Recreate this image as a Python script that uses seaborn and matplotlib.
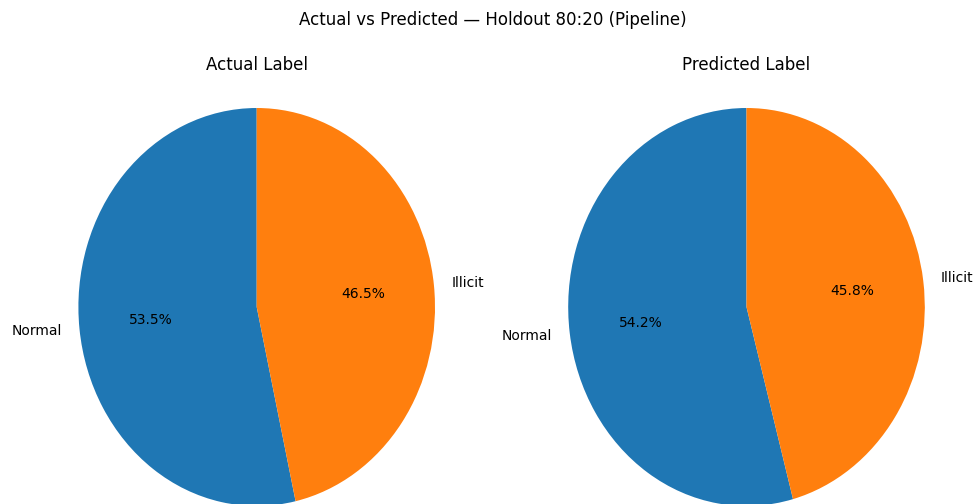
import matplotlib
matplotlib.use("Agg")
import matplotlib.pyplot as plt
import seaborn as sns

# Class shares for the holdout split
categories = ["Normal", "Illicit"]
actual_pct = [53.5, 46.5]
predicted_pct = [54.2, 45.8]
panel_titles = ["Actual Label", "Predicted Label"]
suptitle = "Actual vs Predicted \u2014 Holdout 80:20 (Pipeline)"

plt.rcParams["font.family"] = ["DejaVu Sans"]
colors = sns.color_palette("tab10", 2)

W, H = 978, 504
fig = plt.figure(figsize=(W / 100, H / 100), dpi=100)

# Pixel geometry of each panel: centre x, centre y, horizontal and vertical radius
rx, ry = 178.3, 199.0
cy = 307.0
centres_x = [256.7, 746.5]
top_px = 78.0
ylim_top = (cy - top_px) / ry
ylim_bot = -(H - cy) / ry

for cx, values, title in zip(centres_x, [actual_pct, predicted_pct], panel_titles):
    left = cx - 1.25 * rx
    width = 2.5 * rx
    height = H - top_px
    ax = fig.add_axes([left / W, 0, width / W, height / H])
    ax.pie(values, labels=categories, colors=colors, autopct="%1.1f%%",
           startangle=90, textprops={"fontsize": 10},
           wedgeprops={"linewidth": 0})
    ax.set_aspect("auto")
    ax.set_xlim(-1.25, 1.25)
    ax.set_ylim(ylim_bot, ylim_top)
    ax.set_title(title, fontsize=12)

fig.suptitle(suptitle, fontsize=12, x=493 / W, y=1 - 20 / H, va="center")
fig.savefig("out.png", dpi=100)
